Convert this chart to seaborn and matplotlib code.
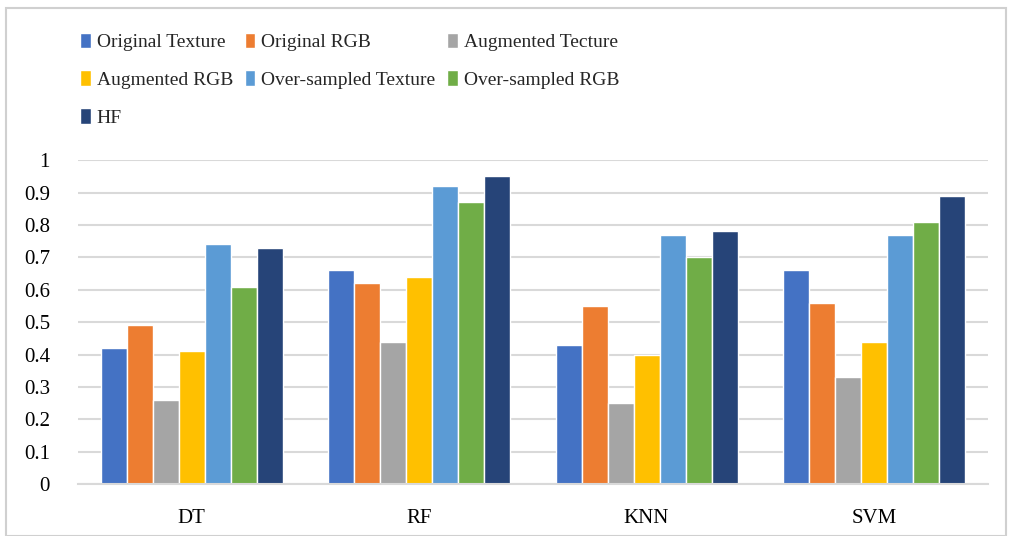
import pandas as pd
import seaborn as sns
import matplotlib.pyplot as plt
from matplotlib.patches import Rectangle

# data
classifiers = ["DT", "RF", "KNN", "SVM"]
series = ["Original Texture", "Original RGB", "Augmented Tecture", "Augmented RGB",
          "Over-sampled Texture", "Over-sampled RGB", "HF"]
original_texture = [0.42, 0.66, 0.43, 0.66]
original_rgb = [0.49, 0.62, 0.55, 0.56]
augmented_texture = [0.26, 0.44, 0.25, 0.33]
augmented_rgb = [0.41, 0.64, 0.40, 0.44]
oversampled_texture = [0.74, 0.92, 0.77, 0.77]
oversampled_rgb = [0.61, 0.87, 0.70, 0.81]
hf = [0.73, 0.95, 0.78, 0.89]
yticks = [0, 0.1, 0.2, 0.3, 0.4, 0.5, 0.6, 0.7, 0.8, 0.9, 1]
ytick_labels = ["0", "0.1", "0.2", "0.3", "0.4", "0.5", "0.6", "0.7", "0.8", "0.9", "1"]

colors = ["#4472C4", "#ED7D31", "#A5A5A5", "#FFC000", "#5B9BD5", "#70AD47", "#264478"]

all_vals = [original_texture, original_rgb, augmented_texture, augmented_rgb,
            oversampled_texture, oversampled_rgb, hf]
rows = []
for name, vals in zip(series, all_vals):
    for clf, v in zip(classifiers, vals):
        rows.append({"Classifier": clf, "Series": name, "Score": v})
df = pd.DataFrame(rows)

sns.set_style("white")
plt.rcParams["font.family"] = ["Liberation Serif", "DejaVu Serif"]

fig = plt.figure(figsize=(10.1, 5.36), dpi=100)
ax = fig.add_axes([0.077, 0.097, 0.901, 0.604])

sns.barplot(data=df, x="Classifier", y="Score", hue="Series", hue_order=series,
            order=classifiers, palette=colors, width=0.8, edgecolor="white",
            linewidth=1.0, saturation=1, ax=ax)

ax.set_ylim(0, 1)
ax.set_yticks(yticks)
ax.set_yticklabels(ytick_labels)
ax.yaxis.grid(True, color="#d9d9d9", linewidth=1.5)
ax.set_axisbelow(True)
ax.set_xlabel("")
ax.set_ylabel("")
for s in ["top", "right", "left"]:
    ax.spines[s].set_visible(False)
ax.spines["bottom"].set_color("#d9d9d9")
ax.spines["bottom"].set_linewidth(1.5)
ax.tick_params(axis="both", length=0, labelsize=15, colors="#000000")
ax.tick_params(axis="y", pad=20)
ax.tick_params(axis="x", pad=18)

# legend: row-major order in 3 columns
handles, labels = ax.get_legend_handles_labels()
ax.get_legend().remove()
order = [0, 3, 6, 1, 4, 2, 5]
fig.legend([handles[i] for i in order], [labels[i] for i in order],
           ncol=3, loc="upper left", bbox_to_anchor=(0.062, 0.972),
           frameon=False, fontsize=14, handlelength=0.55, handleheight=0.85,
           handletextpad=0.3, columnspacing=0.6, labelspacing=1.0)

# light frame round the figure
fig.patches.append(Rectangle((0.006, 0.0), 0.99, 0.985, transform=fig.transFigure,
                             fill=False, edgecolor="#d0d0d0", linewidth=1.5))

plt.savefig("out.png", dpi=100)
